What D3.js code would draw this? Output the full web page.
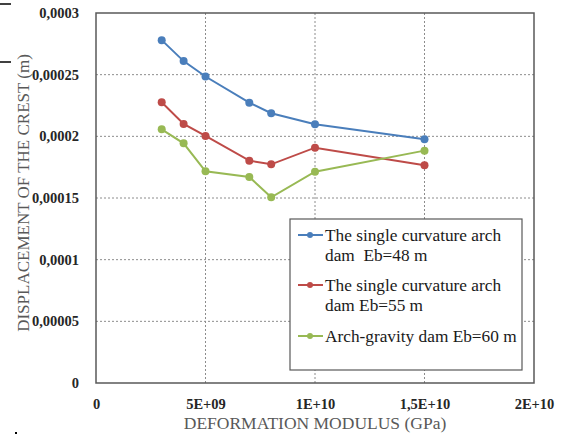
<!DOCTYPE html>
<html>
<head>
<meta charset="utf-8">
<script src="https://cdn.jsdelivr.net/npm/d3@7"></script>
<style>
  body { margin: 0; background: #fff; }
  svg { display: block; }
</style>
</head>
<body>
<svg id="chart"></svg>
<script>
// data
const modulus = [3e9, 4e9, 5e9, 7e9, 8e9, 1e10, 1.5e10];
const eb48 = [0.000278, 0.000261, 0.0002485, 0.0002273, 0.0002187, 0.0002098, 0.0001976];
const eb55 = [0.0002276, 0.00021, 0.0002003, 0.0001803, 0.0001773, 0.0001908, 0.0001765];
const eb60 = [0.0002057, 0.0001943, 0.0001716, 0.000167, 0.0001506, 0.0001713, 0.0001884];
const seriesNames = [["The single curvature arch", "dam  Eb=48 m"], ["The single curvature arch", "dam Eb=55 m"], ["Arch-gravity dam Eb=60 m"]];
const xTicks = [0, 5e9, 1e10, 1.5e10, 2e10];
const xTickLabels = ["0", "5E+09", "1E+10", "1,5E+10", "2E+10"];
const yTicks = [0, 0.00005, 0.0001, 0.00015, 0.0002, 0.00025, 0.0003];
const yTickLabels = ["0", "0,00005", "0,0001", "0,00015", "0,0002", "0,00025", "0,0003"];

const width = 563, height = 436;
const margin = { left: 96, right: 29, top: 13, bottom: 53 };
const colors = ["#4a7ebb", "#be4b48", "#98b954"];
const serif = "'Liberation Serif', 'Times New Roman', serif";

const svg = d3.select("#chart").attr("width", width).attr("height", height);

const x = d3.scaleLinear().domain([0, 2e10]).range([margin.left, width - margin.right]);
const y = d3.scaleLinear().domain([0, 0.0003]).range([height - margin.bottom, margin.top]);

// grid
svg.append("g")
  .selectAll("line")
  .data(yTicks.slice(1, -1))
  .enter().append("line")
  .attr("x1", x(0)).attr("x2", x(2e10))
  .attr("y1", d => y(d)).attr("y2", d => y(d))
  .attr("stroke", "#8c8c8c").attr("stroke-dasharray", "2,2");
svg.append("g")
  .selectAll("line")
  .data(xTicks.slice(1, -1))
  .enter().append("line")
  .attr("y1", y(0)).attr("y2", y(0.0003))
  .attr("x1", d => x(d)).attr("x2", d => x(d))
  .attr("stroke", "#8c8c8c").attr("stroke-dasharray", "2,2");

// frame
svg.append("rect")
  .attr("x", x(0)).attr("y", y(0.0003))
  .attr("width", x(2e10) - x(0)).attr("height", y(0) - y(0.0003))
  .attr("fill", "none").attr("stroke", "#595959").attr("stroke-width", 1.5);

// axes
const xAxis = svg.append("g")
  .attr("transform", "translate(0," + (y(0) + 13) + ")")
  .call(d3.axisBottom(x).tickValues(xTicks).tickSize(0).tickFormat((d, i) => xTickLabels[i]));
const yAxis = svg.append("g")
  .attr("transform", "translate(" + (x(0) - 14) + ",0)")
  .call(d3.axisLeft(y).tickValues(yTicks).tickSize(0).tickFormat((d, i) => yTickLabels[i]));
[xAxis, yAxis].forEach(a => {
  a.attr("font-family", serif);
  a.select(".domain").remove();
  a.selectAll("text")
    .style("font-family", serif)
    .style("font-size", "14.5px").style("font-weight", "bold").attr("fill", "#262626");
});

// axis titles
svg.append("text")
  .attr("x", x(1e10)).attr("y", 429)
  .attr("text-anchor", "middle")
  .style("font-family", serif)
  .style("font-size", "17.5px").attr("fill", "#595959")
  .text("DEFORMATION MODULUS (GPa)");
svg.append("text")
  .attr("transform", "translate(29,193) rotate(-90)")
  .attr("text-anchor", "middle")
  .style("font-family", serif)
  .style("font-size", "17px").attr("fill", "#595959")
  .text("DISPLACEMENT OF THE CREST (m)");

// series
const allSeries = [eb48, eb55, eb60];
const line = d3.line().x((d, i) => x(modulus[i])).y(d => y(d));
allSeries.forEach((s, k) => {
  svg.append("path").datum(s)
    .attr("d", line).attr("fill", "none")
    .attr("stroke", colors[k]).attr("stroke-width", 2);
  svg.append("g").selectAll("circle")
    .data(s).enter().append("circle")
    .attr("cx", (d, i) => x(modulus[i])).attr("cy", d => y(d))
    .attr("r", 4).attr("fill", colors[k]);
});

// legend
const lg = svg.append("g").attr("transform", "translate(290,219)");
lg.append("rect").attr("width", 232).attr("height", 151)
  .attr("fill", "#fff").attr("stroke", "#595959").attr("stroke-width", 1.2);
const rowY = [16, 66, 117];
seriesNames.forEach((lines, k) => {
  const g = lg.append("g").attr("transform", "translate(0," + rowY[k] + ")");
  g.append("line").attr("x1", 8).attr("x2", 33).attr("y1", 0).attr("y2", 0)
    .attr("stroke", colors[k]).attr("stroke-width", 2);
  g.append("circle").attr("cx", 20).attr("cy", 0).attr("r", 3).attr("fill", colors[k]);
  lines.forEach((t, j) => {
    g.append("text").attr("x", 35).attr("y", 6 + j * 19.5)
      .style("font-family", serif)
      .style("font-size", "17.3px").attr("fill", "#1a1a1a")
      .style("white-space", "pre")
      .text(t);
  });
});

// stray marks at the left edge of the original image
svg.append("line").attr("x1", 0).attr("x2", 11).attr("y1", 4).attr("y2", 4).attr("stroke", "#000").attr("stroke-width", 1.5);
svg.append("line").attr("x1", 0).attr("x2", 11).attr("y1", 62).attr("y2", 62).attr("stroke", "#000").attr("stroke-width", 1.5);
svg.append("rect").attr("x", 15).attr("y", 432).attr("width", 2).attr("height", 2).attr("fill", "#000");
</script>
</body>
</html>
